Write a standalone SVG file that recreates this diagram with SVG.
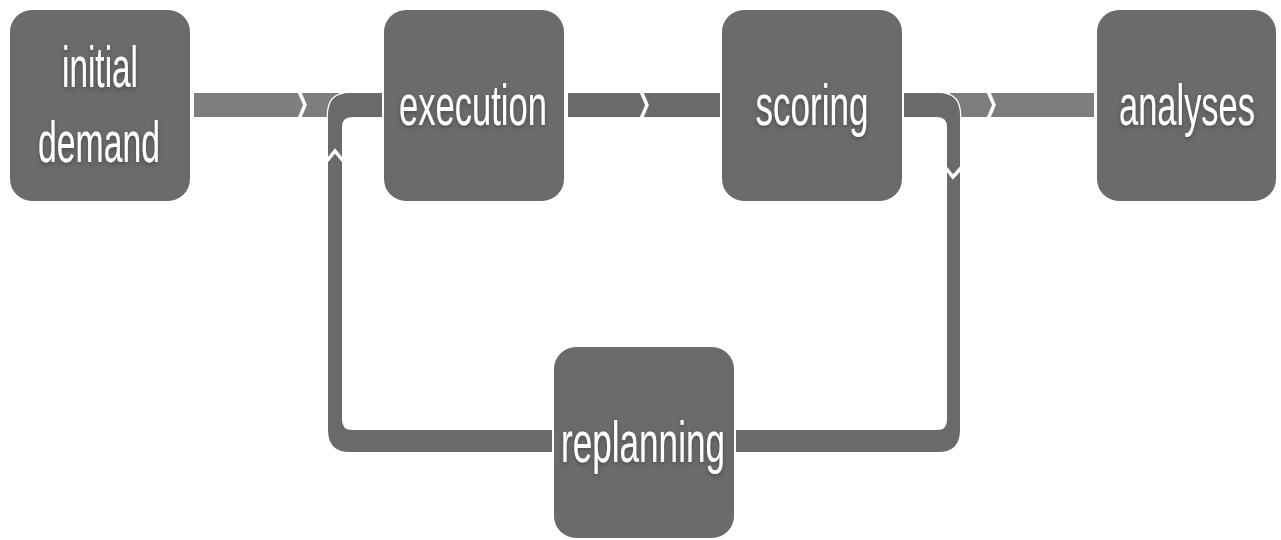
<svg xmlns="http://www.w3.org/2000/svg" width="1281" height="540" viewBox="0 0 1281 540">
<style>
.node{fill:#6b6b6b}
.lbl{font-family:"Liberation Sans",Arial,sans-serif;font-size:58px;fill:#ffffff;text-anchor:middle;filter:url(#sh)}
.light{fill:#7e7e7e}
.dark{fill:#6a6a6a}
.loop{fill:#6a6a6a;stroke:#ffffff;stroke-width:2.5;paint-order:stroke}
.chev{fill:none;stroke:#ffffff;stroke-width:3.5}
</style>
<defs>
<filter id="sh" x="-20%" y="-20%" width="140%" height="140%">
<feDropShadow dx="0" dy="2" stdDeviation="2" flood-color="#333" flood-opacity="0.6"/>
</filter>
</defs>
<g id="connectors">
<rect class="light" x="194" y="93" width="189" height="24"/>
<rect class="dark" x="568" y="93" width="152" height="24"/>
<rect class="light" x="950" y="93" width="144" height="24"/>
<path class="loop" d="M 904 93 H 938 Q 960 93 960 115 V 430 Q 960 452 938 452 H 736 V 430 H 937 Q 947 430 947 420 V 127 Q 947 117 937 117 H 904 Z"/>
<path class="loop" d="M 552 430 H 352 Q 342 430 342 420 V 127 Q 342 117 352 117 H 382 V 93 H 350 Q 328 93 328 115 V 430 Q 328 452 350 452 H 552 Z"/>
<polyline class="chev" points="299,91 305,105 299,119"/>
<polyline class="chev" points="641,91 647,105 641,119"/>
<polyline class="chev" points="988,91 994,105 988,119"/>
<polyline class="chev" points="326,162 335,151 344,162"/>
<polyline class="chev" points="945,167 953,177 962,167"/>
</g>
<g id="node-initial-demand">
<rect class="node" x="10" y="10" width="180" height="191" rx="22"/>
<text class="lbl" x="100" y="87" textLength="76" lengthAdjust="spacingAndGlyphs">initial</text>
<text class="lbl" x="99" y="162" textLength="122" lengthAdjust="spacingAndGlyphs">demand</text>
</g>
<g id="node-execution">
<rect class="node" x="384" y="10" width="180" height="191" rx="22"/>
<text class="lbl" x="473" y="125" textLength="148" lengthAdjust="spacingAndGlyphs">execution</text>
</g>
<g id="node-scoring">
<rect class="node" x="722" y="10" width="180" height="191" rx="22"/>
<text class="lbl" x="812" y="125" textLength="113" lengthAdjust="spacingAndGlyphs">scoring</text>
</g>
<g id="node-analyses">
<rect class="node" x="1097" y="10" width="179" height="191" rx="22"/>
<text class="lbl" x="1187" y="125" textLength="136" lengthAdjust="spacingAndGlyphs">analyses</text>
</g>
<g id="node-replanning">
<rect class="node" x="554" y="347" width="180" height="191" rx="22"/>
<text class="lbl" x="643" y="462" textLength="164" lengthAdjust="spacingAndGlyphs">replanning</text>
</g>
</svg>
